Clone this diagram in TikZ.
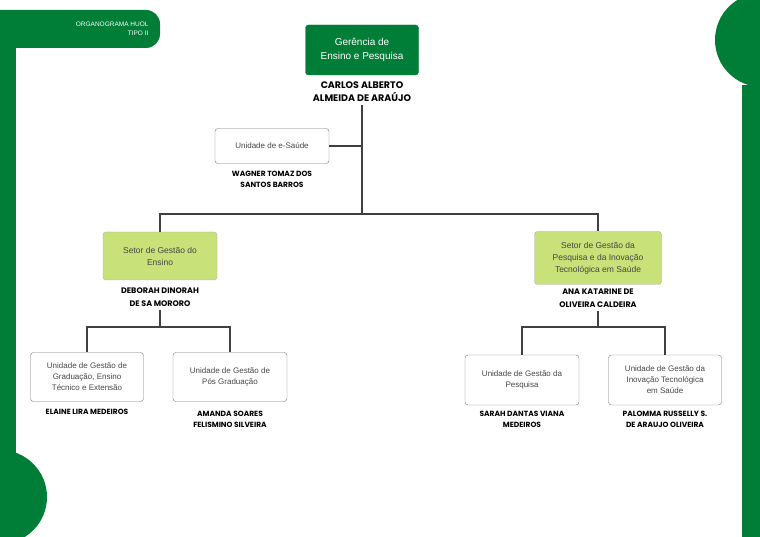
\documentclass[tikz,border=0pt]{standalone}
\usepackage{fontspec}
\setmainfont{Liberation Sans}
\newfontfamily\namefont{Poppins}
\usetikzlibrary{positioning}
\definecolor{huolgreen}{RGB}{0,125,55}
\definecolor{setorgreen}{RGB}{200,225,120}
\definecolor{boxgray}{RGB}{120,120,120}
\definecolor{textgray}{RGB}{70,70,70}
\tikzset{
  unidade/.style={draw=boxgray, rounded corners=3pt, fill=white, align=center,
    text=textgray, font=\fontsize{8}{11}\selectfont, inner sep=2pt},
  setor/.style={unidade, fill=setorgreen, draw=boxgray!60, text=textgray,
    font=\fontsize{8.5}{12}\selectfont},
  nome/.style={align=center, font=\namefont\bfseries\fontsize{7.5}{11}\selectfont},
  ligacao/.style={draw=black!75, line width=1.6pt}
}
\begin{document}
\begin{tikzpicture}[x=1pt,y=-1pt]
  \useasboundingbox (0,0) rectangle (760,537);

  % moldura verde
  \fill[huolgreen] (0,48) rectangle (16,537);
  \fill[huolgreen, rounded corners=14pt] (-20,10) rectangle (160,48);
  \fill[huolgreen] (0,10) rectangle (20,48);
  \fill[huolgreen] (0,497) circle (47);
  \fill[huolgreen] (742,85) rectangle (760,537);
  \begin{scope}
    \clip (0,0) rectangle (760,537);
    \fill[huolgreen] (762,40) circle (47);
  \end{scope}
  \node[align=right, anchor=east, text=white, font=\fontsize{6.5}{9}\selectfont] (titulo) at (152,29) {ORGANOGRAMA HUOL\\TIPO II};

  % gerencia
  \node[unidade, fill=huolgreen, draw=huolgreen, text=white, minimum width=113pt, minimum height=50pt,
    font=\fontsize{10}{14}\selectfont] (gerencia) at (362,50) {Ger\^encia de\\Ensino e Pesquisa};
  \node[nome, font=\namefont\bfseries\fontsize{9.5}{13}\selectfont] (gerenteNome) at (362,92) {CARLOS ALBERTO\\ALMEIDA DE ARA\'UJO};

  % e-saude
  \node[unidade, minimum width=114pt, minimum height=35pt] (esaude) at (272,146) {Unidade de e-Sa\'ude};
  \node[nome] (esaudeNome) at (272,179) {WAGNER TOMAZ DOS\\SANTOS BARROS};

  % setores
  \node[setor, minimum width=114pt, minimum height=48pt] (setorEnsino) at (160,256) {Setor de Gest\~ao do\\Ensino};
  \node[nome, font=\namefont\bfseries\fontsize{8}{13}\selectfont] (ensinoNome) at (160,297) {DEBORAH DINORAH\\DE SA MORORO};
  \node[setor, minimum width=127pt, minimum height=53pt] (setorPesquisa) at (598,258) {Setor de Gest\~ao da\\Pesquisa e da Inova\c{c}\~ao\\Tecnol\'ogica em Sa\'ude};
  \node[nome, font=\namefont\bfseries\fontsize{8}{13}\selectfont] (pesquisaNome) at (598,298) {ANA KATARINE DE\\OLIVEIRA CALDEIRA};

  % unidades
  \node[unidade, minimum width=113pt, minimum height=49pt] (graduacao) at (87,377) {Unidade de Gest\~ao de\\Gradua\c{c}\~ao, Ensino\\T\'ecnico e Extens\~ao};
  \node[nome] (graduacaoNome) at (87,412) {ELAINE LIRA MEDEIROS};
  \node[unidade, minimum width=114pt, minimum height=49pt] (posgrad) at (230,377) {Unidade de Gest\~ao de\\P\'os Gradua\c{c}\~ao};
  \node[nome] (posgradNome) at (230,419) {AMANDA SOARES\\FELISMINO SILVEIRA};
  \node[unidade, minimum width=114pt, minimum height=50pt] (unPesquisa) at (522,380) {Unidade de Gest\~ao da\\Pesquisa};
  \node[nome] (unPesquisaNome) at (522,419) {SARAH DANTAS VIANA\\MEDEIROS};
  \node[unidade, minimum width=113pt, minimum height=50pt] (inovacao) at (665,380) {Unidade de Gest\~ao da\\Inova\c{c}\~ao Tecnol\'ogica\\em Sa\'ude};
  \node[nome] (inovacaoNome) at (665,419) {PALOMMA RUSSELLY S.\\DE ARAUJO OLIVEIRA};

  % ligacoes
  \coordinate (tronco) at (362,214);
  \draw[ligacao] (gerenteNome.south) -- (tronco);
  \draw[ligacao] (esaude.east) -- (esaude.east -| tronco);
  \draw[ligacao] (setorEnsino.north) |- (tronco) -| (setorPesquisa.north);
  \coordinate (ramoEnsino) at (160,327);
  \draw[ligacao] (ensinoNome.south) -- (ramoEnsino);
  \draw[ligacao] (graduacao.north) |- (ramoEnsino) -| (posgrad.north);
  \coordinate (ramoPesquisa) at (598,327);
  \draw[ligacao] (pesquisaNome.south) -- (ramoPesquisa);
  \draw[ligacao] (unPesquisa.north) |- (ramoPesquisa) -| (inovacao.north);
\end{tikzpicture}
\end{document}
